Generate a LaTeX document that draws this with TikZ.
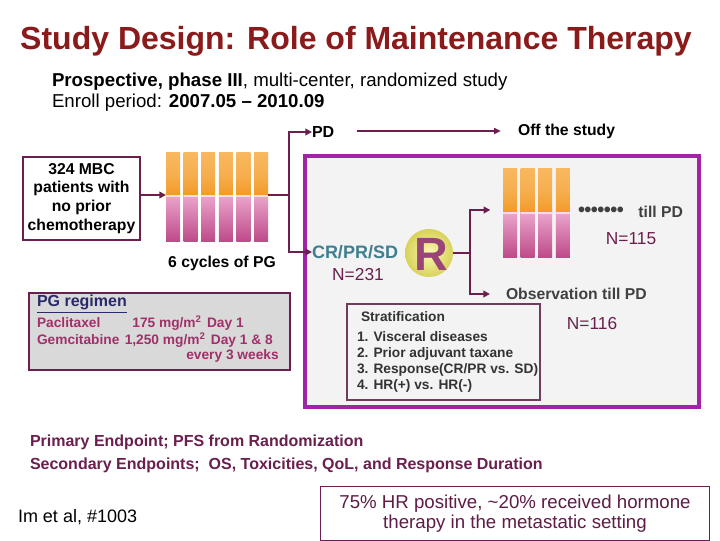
\documentclass[tikz,border=0pt]{standalone}
\usepackage{fontspec}
\setmainfont{Liberation Sans}
\usetikzlibrary{arrows.meta,shadings}
\definecolor{titred}{HTML}{8B1A1A}
\definecolor{maroon}{HTML}{6A1F4E}
\definecolor{purp}{HTML}{A323A8}
\definecolor{teal}{HTML}{3F7E8E}
\definecolor{pinkt}{HTML}{A0306A}
\definecolor{rcol}{HTML}{9A4578}
\definecolor{navy}{HTML}{2A2A6A}
\definecolor{boxgray}{HTML}{F3F3F3}
\definecolor{pggray}{HTML}{D9D9D9}
\definecolor{orgA}{HTML}{F8B860}
\definecolor{orgB}{HTML}{F29A28}
\definecolor{pnkA}{HTML}{EBA6CC}
\definecolor{pnkB}{HTML}{BE4A8A}
\definecolor{ballin}{HTML}{FAFAB0}
\definecolor{ballout}{HTML}{D8D25A}
\newcommand{\fs}[1]{\fontsize{#1}{1.2\dimexpr #1pt\relax}\selectfont}
\tikzset{
  conn/.style={draw=maroon, line width=2.2pt},
  arr/.style={conn, -{Triangle[length=5pt,width=5pt]}},
  plain/.style={inner sep=0pt, outer sep=0pt, anchor=west},
  barsnode/.style={inner sep=0pt, outer sep=0pt, minimum height=66.75pt},
}
\begin{document}
\begin{tikzpicture}[x=0.75pt,y=-0.75pt]
\useasboundingbox (0,0) rectangle (720,540);
\fill[white] (0,0) rectangle (720,540);

% title
\node[inner sep=0pt, text=titred, font=\bfseries\fs{24}] (title) at (356,41) {Study Design: Role of Maintenance Therapy};
\node[plain, font=\fs{14}, align=left] (sub) at (52,92) {\textbf{Prospective, phase III}, multi-center, randomized study\\[-1pt] Enroll period: \textbf{2007.05 -- 2010.09}};

% purple box
\draw[draw=purp, fill=boxgray, line width=2.4pt] (305,156) rectangle (699,407);

% box 324
\node[draw=maroon, line width=0.8pt, fill=white, minimum width=87.75pt, minimum height=62.25pt, align=center, font=\bfseries\fs{11.8}, inner sep=1pt] (pts) at (81.5,198.5) {324 MBC\\patients with\\no prior\\chemotherapy};

% bars group 1
\node[barsnode, minimum width=76.5pt] (bars1) at (217,196.5) {};
\foreach \i in {0,...,5}{
  \pgfmathsetmacro{\xa}{166+\i*17.6}
  \shade[top color=orgA, bottom color=orgB, middle color=orgA!70!orgB] (\xa,152) rectangle (\xa+14,195);
  \shade[top color=pnkA, bottom color=pnkB] (\xa,195) rectangle (\xa+14,241);
  \fill[white,opacity=0.6] (\xa,195) rectangle (\xa+14,197);
}
\node[font=\bfseries\fs{11.8}, inner sep=0pt] (cyc) at (222,263) {6 cycles of PG};

% connectors from patients to bars
\draw[arr] (pts.east |- 0,195) -- (bars1.west |- 0,195);

% branch after bars1
\coordinate (j1) at (289,195);
\draw[conn] (bars1.east |- 0,195) -- (j1);
\node[plain, font=\bfseries\fs{12}] (pd) at (312,132) {PD};
\node[plain, font=\bfseries\fs{13.5}, text=teal] (crpr) at (312,252) {CR/PR/SD};
\draw[arr] (289,195) |- (pd.west);
\draw[arr] (289,195) |- (crpr.west);
\node[plain, font=\bfseries\fs{11.8}] (off) at (518,131) {Off the study};
\coordinate (offs) at (357,131);
\draw[draw=maroon, line width=1.2pt, -{Triangle[length=5pt,width=4.5pt]}, shorten >=13pt] (offs) -- (off.west);

\node[font=\fs{13}, text=maroon, inner sep=0pt] (n231) at (358,275) {N=231};

% R ball
\shade[inner color=ballin, outer color=ballout] (429,253) circle (24);
\node[circle, minimum size=36pt, inner sep=0pt] (R) at (429,253) {};
\node[font=\bfseries\fs{35}, text=rcol, inner sep=0pt] at (431,254) {R};

% bars group 2
\node[barsnode, minimum width=51pt] (bars2) at (537,212.5) {};
\foreach \i in {0,...,3}{
  \pgfmathsetmacro{\xa}{503+\i*17.6}
  \shade[top color=orgA, bottom color=orgB, middle color=orgA!70!orgB] (\xa,168) rectangle (\xa+14,212);
  \shade[top color=pnkA, bottom color=pnkB] (\xa,212) rectangle (\xa+14,257);
  \fill[white,opacity=0.6] (\xa,212) rectangle (\xa+14,214);
}
\node[plain, font=\bfseries\fs{11.8}, text=black!75] (obs) at (506,294) {Observation till PD};
\coordinate (j2) at (470,253);
\draw[conn] (R.east) -- (j2);
\draw[arr, shorten >=9.5pt] (j2) |- (bars2.west |- 0,210);
\draw[arr, shorten >=12pt] (j2) |- (obs.west);

\node[plain, font=\bfseries\fs{11.8}, text=black!75] (till) at (578,212) {{\fs{15}\raisebox{0.5pt}{\textbullet\kern-0.4pt\textbullet\kern-0.4pt\textbullet\kern-0.4pt\textbullet\kern-0.4pt\textbullet\kern-0.4pt\textbullet\kern-0.4pt\textbullet}}\hspace{11pt}till PD};
\node[font=\fs{13}, text=maroon, inner sep=0pt] (n115) at (631,239) {N=115};
\node[font=\fs{13}, text=maroon, inner sep=0pt] (n116) at (592,324) {N=116};

% stratification box
\node[draw=maroon!70!gray, line width=1.4pt, fill=boxgray, minimum width=144.75pt, minimum height=72pt, inner sep=0pt] (strat) at (443.5,352) {};
\node[plain, font=\bfseries\fs{10.3}, text=black!80] (st) at (361,317) {Stratification};
\node[plain, font=\bfseries\fs{10.3}, text=black!80, align=left] (stl) at (357,362) {1. Visceral diseases\\[-0.4pt]2. Prior adjuvant taxane\\[-0.4pt]3. Response(CR/PR vs. SD)\\[-0.4pt]4. HR(+) vs. HR(-)};

% PG regimen box
\node[draw=maroon, line width=1.4pt, fill=pggray, minimum width=195.75pt, minimum height=57.75pt, inner sep=0pt] (pg) at (159.5,331.5) {};
\node[plain, font=\bfseries\fs{12}, text=navy] (pgt) at (37,304) {\underline{PG regimen}};
\node[plain, font=\bfseries\fs{10.3}, text=pinkt] (pac) at (37,323) {Paclitaxel\hspace{24pt}175 mg/m\textsuperscript{2}\hspace{4pt}Day 1};
\node[plain, font=\bfseries\fs{10.3}, text=pinkt] (gem) at (37,340) {Gemcitabine\hspace{4pt}1,250 mg/m\textsuperscript{2}\hspace{4pt}Day 1 \& 8};
\node[anchor=east, inner sep=0pt, font=\bfseries\fs{10.3}, text=pinkt] (ev) at (279,356) {every 3 weeks};

% bottom
\node[plain, font=\bfseries\fs{12}, text=maroon] (prim) at (30,442) {Primary Endpoint; PFS from Randomization};
\node[plain, font=\bfseries\fs{12}, text=maroon] (sec) at (30,465) {Secondary Endpoints;\ \ OS, Toxicities, QoL, and Response Duration};
\node[plain, font=\fs{13.5}] (im) at (18,517) {Im et al, \#1003};
\node[draw=maroon, line width=0.8pt, fill=white, minimum width=291.75pt, minimum height=40pt, align=center, font=\fs{14}, text=maroon!90!black, inner sep=0pt] (hr) at (515,513.5) {75\% HR positive, \textasciitilde20\% received hormone\\[-2pt]therapy in the metastatic setting};
\end{tikzpicture}
\end{document}
